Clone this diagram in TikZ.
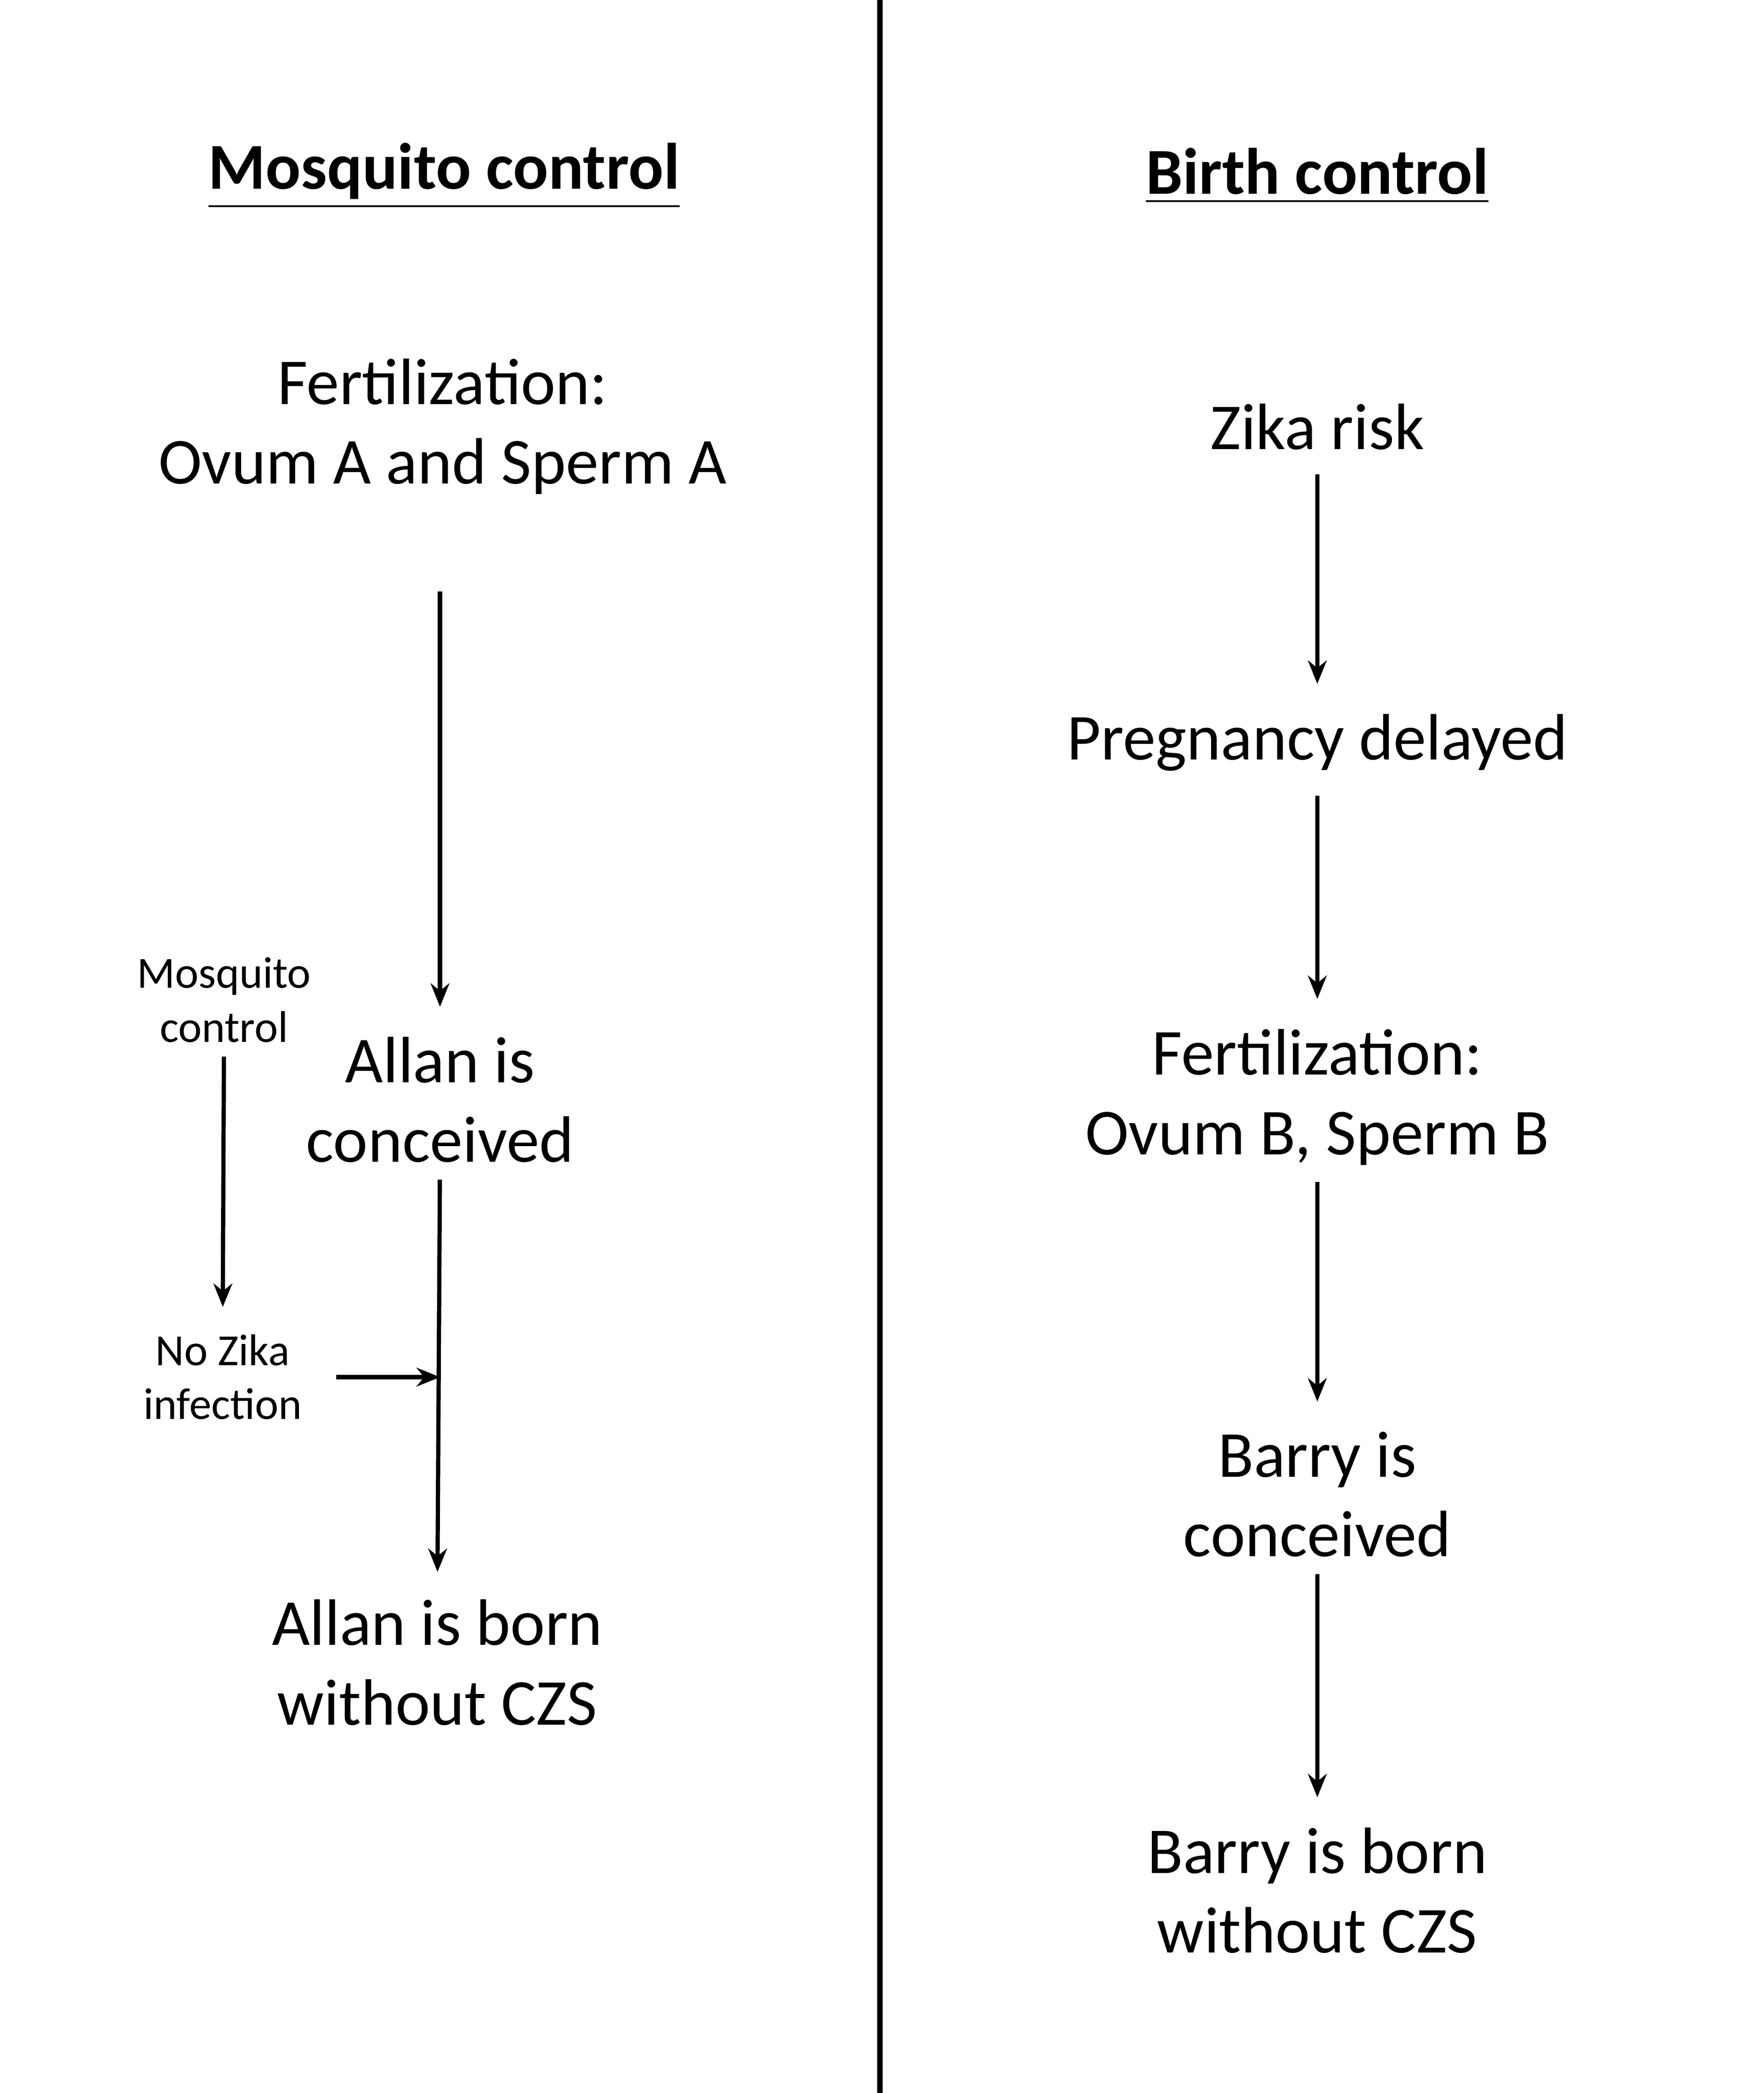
\documentclass[tikz,border=0pt]{standalone}
\usepackage{fontspec}
\setmainfont{Carlito}
\usetikzlibrary{arrows.meta, positioning}

\begin{document}
\begin{tikzpicture}[
    x=1cm, y=1cm,
    txt/.style={align=center, font=\fontsize{14}{17}\selectfont, inner sep=0pt},
    small/.style={align=center, font=\fontsize{9.5}{11.5}\selectfont, inner sep=0pt},
    title/.style={font=\fontsize{14}{17}\selectfont\bfseries, inner sep=0pt},
    flow/.style={-{Stealth[length=5pt, width=4pt]}, line width=0.9pt},
]
\useasboundingbox (0,0) rectangle (13.23,-15.70);

% Divider
\draw[line width=1.2pt] (6.60,0) -- (6.60,-15.70);

% Titles
\node[title] (tleft) at (3.33,-1.32) {\underline{Mosquito control}};
\node[title] (tright) at (9.88,-1.32) {\underline{Birth control}};

% Mosquito control side
\node[txt] (fertA) at (3.32,-3.20) {Fertilization:\\Ovum A and Sperm A};
\node[txt] (allanC) at (3.30,-8.25) {Allan is\\conceived};
\node[txt] (allanB) at (3.28,-12.47) {Allan is born\\without CZS};
\node[small] (mosq) at (1.68,-7.50) {Mosquito\\control};
\node[small] (noZika) at (1.67,-10.33) {No Zika\\infection};

\draw[flow, shorten <=0.72cm, shorten >=0.22cm] (fertA.south -| allanC) -- (allanC.north);
\draw[flow, shorten <=0.12cm, shorten >=0.20cm] (allanC.south) -- (allanB.north);
\draw[flow, shorten <=0.10cm, shorten >=0.20cm] (mosq.south) -- (noZika.north);
\draw[flow, shorten <=0.25cm] (noZika.east) -- (noZika.east -| allanC);

% Birth control side
\node[txt] (zika) at (9.88,-3.20) {Zika risk};
\node[txt] (delay) at (9.88,-5.57) {Pregnancy delayed};
\node[txt] (fertB) at (9.88,-8.23) {Fertilization:\\Ovum B, Sperm B};
\node[txt] (barryC) at (9.88,-11.21) {Barry is\\conceived};
\node[txt] (barryB) at (9.88,-14.18) {Barry is born\\without CZS};

\draw[flow, shorten <=0.18cm, shorten >=0.22cm] (zika.south) -- (delay.north);
\draw[flow, shorten <=0.18cm, shorten >=0.22cm] (delay.south) -- (fertB.north);
\draw[flow, shorten <=0.12cm, shorten >=0.22cm] (fertB.south) -- (barryC.north);
\draw[flow, shorten <=0.12cm, shorten >=0.22cm] (barryC.south) -- (barryB.north);
\end{tikzpicture}
\end{document}
